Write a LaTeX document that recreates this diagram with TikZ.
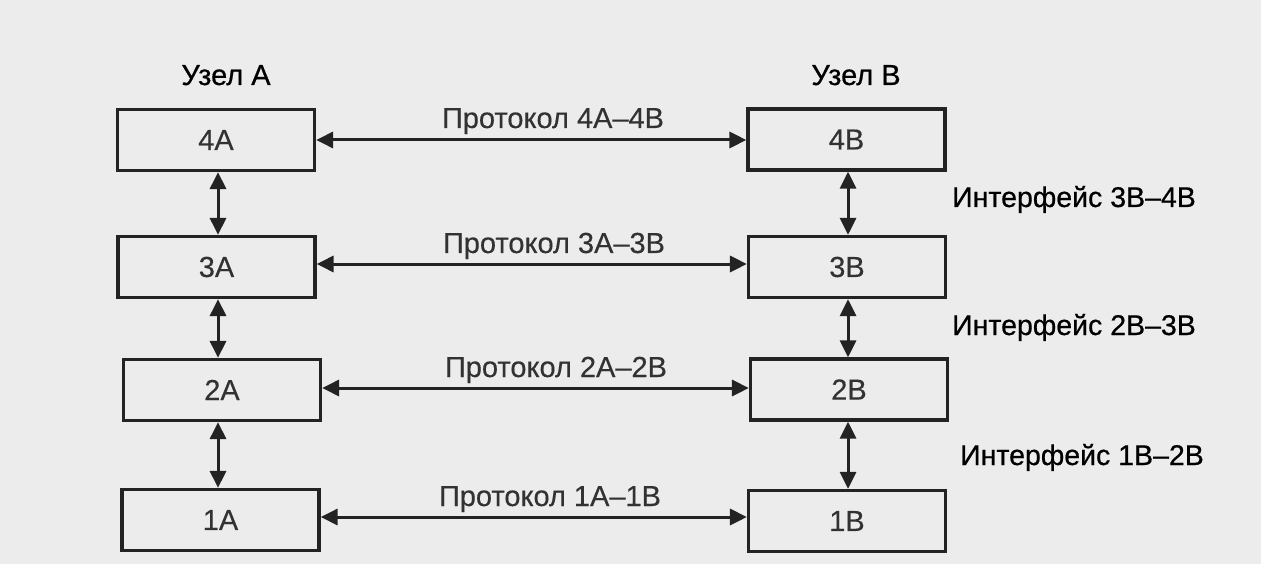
\documentclass[tikz,border=0pt]{standalone}
\usepackage{fontspec}
\setmainfont{Liberation Sans}
\newfontfamily\heavysans{Liberation Sans}[FakeBold=0.6]
\newfontfamily\midsans{Liberation Sans}[FakeBold=0.3]
\usetikzlibrary{arrows.meta}
\definecolor{bg}{RGB}{236,236,236}
\definecolor{ink}{RGB}{35,35,35}
\definecolor{txt}{RGB}{50,50,50}
\begin{document}
\begin{tikzpicture}[x=1pt,y=-1pt,
  layerbox/.style={draw=ink, line width=3.2pt, minimum width=197pt, minimum height=61pt,
    inner sep=0pt, font=\midsans\fontsize{29}{32}\selectfont, text=txt},
  link/.style={draw=ink, line width=3pt,
    {Triangle[length=17pt,width=16pt]}-{Triangle[length=17pt,width=16pt]}},
  lbl/.style={font=\midsans\fontsize{29}{32}\selectfont, text=txt, inner sep=0pt},
  ifl/.style={font=\heavysans\fontsize{28.5}{32}\selectfont, text=black, inner sep=0pt}]
\fill[bg] (0,0) rectangle (1261,564);
\useasboundingbox (0,0) rectangle (1261,564);

% column coordinates for vertical links
\coordinate (colA) at (218,0);
\coordinate (colB) at (848,0);

% node A layers
\node[layerbox] (4A) at (216,140) {4А};
\node[layerbox] (3A) at (216.5,267) {3А};
\node[layerbox] (2A) at (222,390) {2А};
\node[layerbox] (1A) at (220.5,520) {1А};
% node B layers
\node[layerbox] (4B) at (846.5,139.5) {4В};
\node[layerbox] (3B) at (847,267) {3В};
\node[layerbox] (2B) at (849,389.5) {2В};
\node[layerbox] (1B) at (847,521) {1В};

% titles
\node[ifl, font=\heavysans\fontsize{29}{32}\selectfont, anchor=base] (tA) at (226,85) {Узел А};
\node[ifl, font=\heavysans\fontsize{29}{32}\selectfont, anchor=base] (tB) at (856,85) {Узел В};

% protocol links
\draw[link] (4A.east) -- (4A.east -| 4B.west);
\draw[link] ([yshift=3pt]3A.east) -- ([yshift=3pt]3A.east -| 3B.west);
\draw[link] ([yshift=2pt]2A.east) -- ([yshift=2pt]2A.east -| 2B.west);
\draw[link] ([yshift=3pt]1A.east) -- ([yshift=3pt]1A.east -| 1B.west);

\node[lbl, anchor=base] (p4) at (553,128) {Протокол 4А–4В};
\node[lbl, anchor=base] (p3) at (554,253) {Протокол 3А–3В};
\node[lbl, anchor=base] (p2) at (556,377) {Протокол 2А–2В};
\node[lbl, anchor=base] (p1) at (550,506) {Протокол 1А–1В};

% interfaces in node A
\draw[link] (4A.south -| colA) -- (3A.north -| colA);
\draw[link] (3A.south -| colA) -- (2A.north -| colA);
\draw[link] (2A.south -| colA) -- (1A.north -| colA);
% interfaces in node B
\draw[link] (4B.south -| colB) -- (3B.north -| colB);
\draw[link] (3B.south -| colB) -- (2B.north -| colB);
\draw[link] (2B.south -| colB) -- (1B.north -| colB);

\node[ifl, anchor=base west] (i34) at (952,207) {Интерфейс 3В–4В};
\node[ifl, anchor=base west] (i23) at (952,335) {Интерфейс 2В–3В};
\node[ifl, anchor=base west] (i12) at (960,465) {Интерфейс 1В–2В};
\end{tikzpicture}
\end{document}
